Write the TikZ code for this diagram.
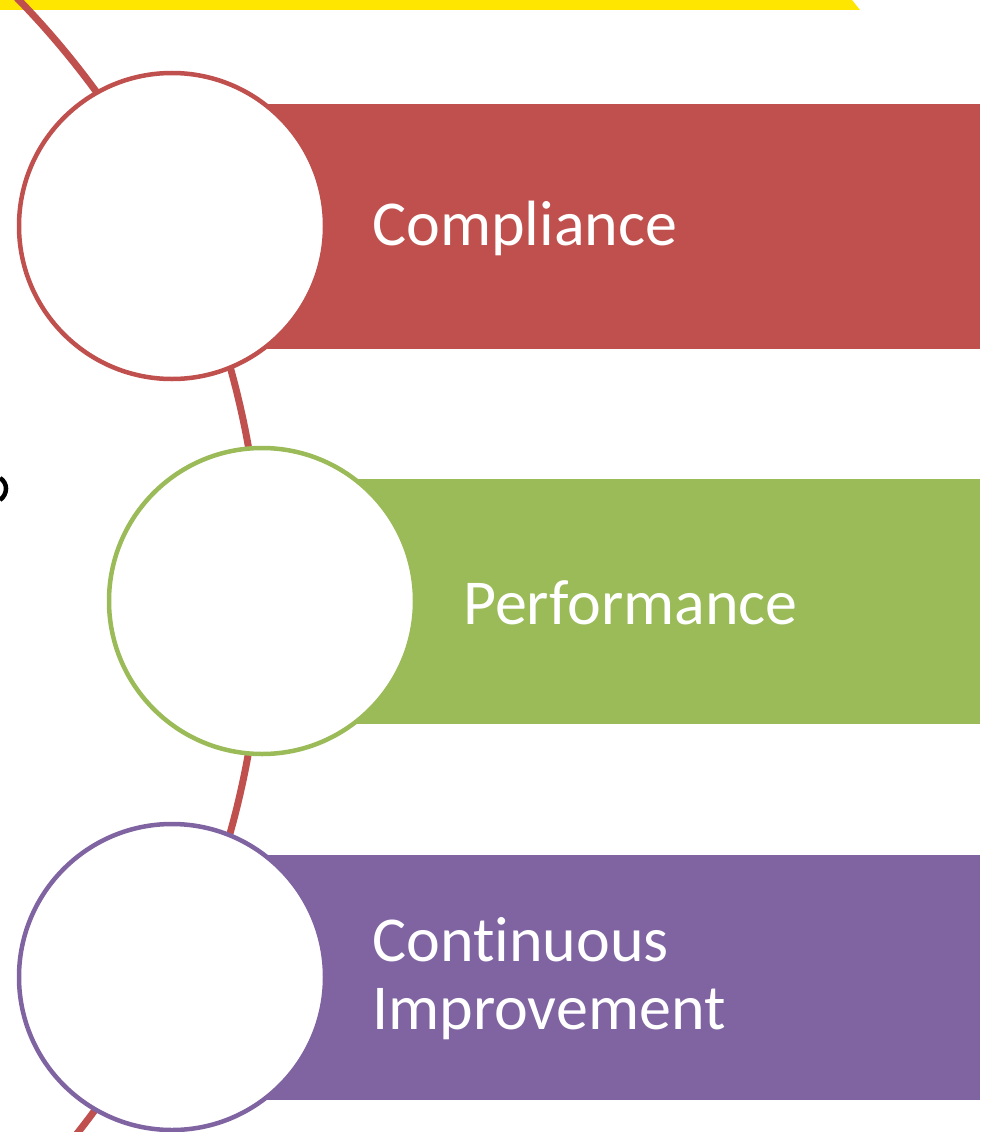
\documentclass[tikz,border=0pt]{standalone}
\usepackage{fontspec}
\setmainfont{Carlito}[Ligatures={NoCommon}]
\definecolor{bandred}{HTML}{C0504D}
\definecolor{bandgreen}{HTML}{9BBB59}
\definecolor{bandpurple}{HTML}{8064A2}
\definecolor{topyellow}{HTML}{FFE600}
\begin{document}
\begin{tikzpicture}[x=1pt, y=-1pt,
		band/.style = {draw=none, rectangle, inner sep=0pt, outer sep=0pt, minimum width=808pt, minimum height=245pt, anchor=west},
		ring/.style = {circle, fill=white, line width=4.5pt, inner sep=0pt, outer sep=0pt, minimum size=306pt},
		label/.style = {text=white, anchor=west, align=left, font=\fontsize{64}{68}\selectfont, inner sep=0pt},]
		\useasboundingbox (0,0) rectangle (990,1132);
		% top strip
		\fill[topyellow] (0,0) -- (852,0) -- (860,10) -- (0,10) -- cycle;
		% cut character at left edge
		\draw[line width=4.5pt] (0,478) .. controls (8,483) and (8,494) .. (0,500);
		% large arc behind the list
		\draw[bandred, line width=7pt] (-600,600) circle (862);
		
		\node[band, fill=bandred] (R1) at (172,226) {};
		\node[band, fill=bandgreen] (R2) at (172,601) {};
		\node[band, fill=bandpurple] (R3) at (172,977) {};
		
		\node[ring, draw=bandred] (C1) at (172,226) {};
		\node[ring, draw=bandgreen] (C2) at (262,601) {};
		\node[ring, draw=bandpurple] (C3) at (172,977) {};
		
		\node[label] (T1) at (372,228) {Compliance};
		\node[label] (T2) at (463,603) {Performance};
		\node[label] (T3) at (372,979) {Continuous\\Improvement};
	\end{tikzpicture}
\end{document}
